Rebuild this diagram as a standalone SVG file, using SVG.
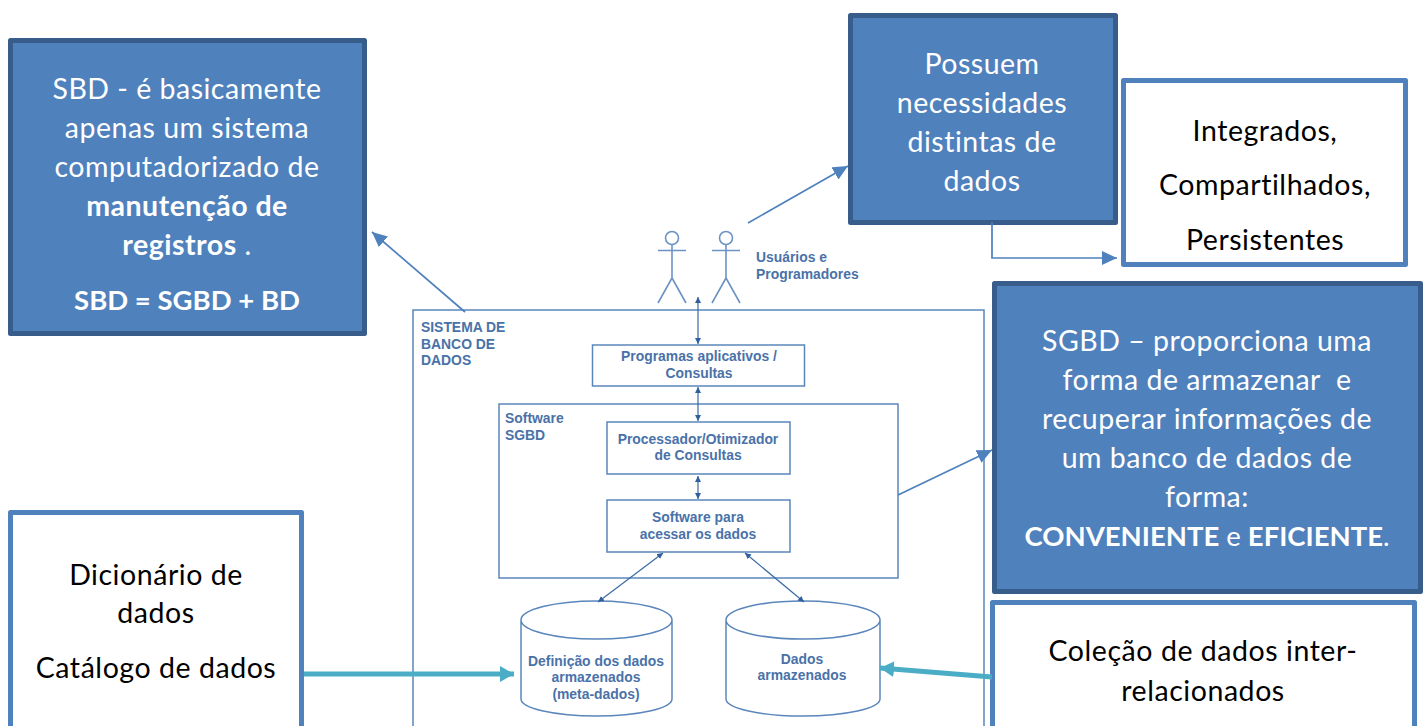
<svg xmlns="http://www.w3.org/2000/svg" width="1426" height="726" viewBox="0 0 1426 726">
<defs>
<marker id="big" markerUnits="userSpaceOnUse" markerWidth="16" markerHeight="14" refX="15" refY="7" orient="auto"><path d="M0 0L15 7L0 14Z" fill="#4f81bd"/></marker>
<marker id="teal" markerUnits="userSpaceOnUse" markerWidth="15" markerHeight="16" refX="14" refY="8" orient="auto"><path d="M0 0L14 8L0 16Z" fill="#4bacc6"/></marker>
<marker id="s" markerUnits="userSpaceOnUse" markerWidth="7" markerHeight="7" refX="6" refY="3" orient="auto-start-reverse"><path d="M0 0L6 3L0 6Z" fill="#2f5f9f"/></marker>
</defs>
<style>
text{font-family:"Lato","Liberation Sans",sans-serif;text-anchor:middle}
.b{font-size:28.5px;letter-spacing:.5px;fill:#fff}
.w{font-size:28.5px;letter-spacing:.55px;fill:#000}
.bold{font-weight:700}
.caps{font-size:27.5px;letter-spacing:0}
.d{fill:#4f81bd;stroke:#385d8a;stroke-width:5;stroke-linejoin:round}
.l{fill:#fff;stroke:#4f81bd;stroke-width:5;stroke-linejoin:round}
.f{fill:#fff;stroke:#5b86bb;stroke-width:1.5}
.t{font-family:"Liberation Sans",sans-serif;font-weight:700;font-size:13.9px;fill:#4a72a8}
.ts{text-anchor:start}
.c{fill:none;stroke:#4f81bd;stroke-width:1.7}
.a{fill:none;stroke:#3a6aa5;stroke-width:1.2;marker-start:url(#s);marker-end:url(#s)}
.p{fill:none;stroke:#6c93c3;stroke-width:1.6}
</style>
<rect width="1426" height="726" fill="#fff"/>
<g id="sistema"><rect class="f" x="413" y="310" width="571" height="430"/>
<text class="t ts" x="421" y="332">SISTEMA DE</text><text class="t ts" x="421" y="349">BANCO DE</text><text class="t ts" x="421" y="365">DADOS</text></g>
<g id="software"><rect class="f" x="499" y="404" width="399" height="174"/>
<text class="t ts" x="505" y="423">Software</text><text class="t ts" x="505" y="440">SGBD</text></g>
<g id="programas"><rect class="f" x="592.500" y="345" width="212" height="41"/>
<text class="t" x="699" y="361">Programas aplicativos /</text><text class="t" x="699" y="378">Consultas</text></g>
<g id="processador"><rect class="f" x="607" y="422" width="183" height="52"/>
<text class="t" x="698" y="444">Processador/Otimizador</text><text class="t" x="698" y="460">de Consultas</text></g>
<g id="acesso"><rect class="f" x="607" y="500" width="183" height="52"/>
<text class="t" x="698" y="522">Software para</text><text class="t" x="698" y="539">acessar os dados</text></g>
<g id="metadados"><path class="f" d="M521 620A75.500 19 0 0 1 672 620A75.500 19 0 0 1 521 620V699A75.500 17 0 0 0 672 699V620"/>
<text class="t" x="596" y="666">Definição dos dados</text><text class="t" x="596" y="682">armazenados</text><text class="t" x="596" y="699">(meta-dados)</text></g>
<g id="dados"><path class="f" d="M726 620A77 19 0 0 1 880 620A77 19 0 0 1 726 620V699A77 17 0 0 0 880 699V620"/>
<text class="t" x="802" y="664">Dados</text><text class="t" x="802" y="680">armazenados</text></g>
<g id="usuarios"><g id="ator1"><circle class="p" cx="672" cy="238" r="6.500"/><path class="p" d="M672 245V278M658 250.500H686M658 303L672 278L686 303"/></g>
<g id="ator2"><circle class="p" cx="726" cy="238" r="6.500"/><path class="p" d="M726 245V278M712 250.500H740M712 303L726 278L740 303"/></g>
<text class="t ts" x="756" y="262">Usuários e</text><text class="t ts" x="756" y="279">Programadores</text></g>
<g id="sbd"><rect class="d" x="10.500" y="40.500" width="354" height="293"/>
<text class="b" x="187" y="99">SBD - é basicamente</text><text class="b" x="187" y="138">apenas um sistema</text><text class="b" x="187" y="177">computadorizado de</text>
<text class="b bold" x="187" y="216">manutenção de</text><text class="b" x="187" y="255"><tspan class="bold">registros</tspan> .</text><text class="b bold caps" x="187" y="310">SBD = SGBD + BD</text></g>
<g id="possuem"><rect class="d" x="850.500" y="15.500" width="265" height="207"/>
<text class="b" x="982" y="74">Possuem</text><text class="b" x="982" y="113">necessidades</text><text class="b" x="982" y="152">distintas de</text><text class="b" x="982" y="191">dados</text></g>
<g id="integrados"><rect class="l" x="1123.500" y="80.500" width="282" height="184"/>
<text class="w" x="1265" y="141">Integrados,</text><text class="w" x="1265" y="195">Compartilhados,</text><text class="w" x="1265" y="250">Persistentes</text></g>
<g id="sgbd"><rect class="d" x="994.500" y="283.500" width="426" height="308"/>
<text class="b" x="1207" y="351">SGBD – proporciona uma</text><text class="b" x="1207" y="390" style="white-space:pre">forma de armazenar  e</text><text class="b" x="1207" y="429">recuperar informações de</text><text class="b" x="1207" y="468">um banco de dados de</text><text class="b" x="1207" y="507">forma:</text>
<text class="b caps" x="1207" y="546"><tspan class="bold">CONVENIENTE</tspan> e <tspan class="bold">EFICIENTE</tspan>.</text></g>
<g id="dicionario"><rect class="l" x="10.500" y="512.500" width="291" height="230"/>
<text class="w" x="156" y="585">Dicionário de</text><text class="w" x="156" y="623">dados</text><text class="w" x="156" y="678">Catálogo de dados</text></g>
<g id="colecao"><rect class="l" x="992.500" y="602.500" width="422" height="140"/>
<text class="w" x="1203" y="661">Coleção de dados inter-</text><text class="w" x="1203" y="701">relacionados</text></g>
<g id="connectors">
<path class="c" d="M465 312L372 232" marker-end="url(#big)"/>
<path class="c" d="M748 223L848 166" marker-end="url(#big)"/>
<path class="c" d="M992 222V258H1117" marker-end="url(#big)"/>
<path class="c" d="M898 495L992 450" marker-end="url(#big)"/>
<path d="M304 674H514" fill="none" stroke="#4bacc6" stroke-width="5" marker-end="url(#teal)"/>
<path d="M992 677L880 668" fill="none" stroke="#4bacc6" stroke-width="5" marker-end="url(#teal)"/>
<path class="a" d="M698 297V344"/>
<path class="a" d="M698 387V421"/>
<path class="a" d="M698 476V499"/>
<path class="a" d="M663 553L598 602"/>
<path class="a" d="M745 553L804 602"/>
</g>
</svg>
